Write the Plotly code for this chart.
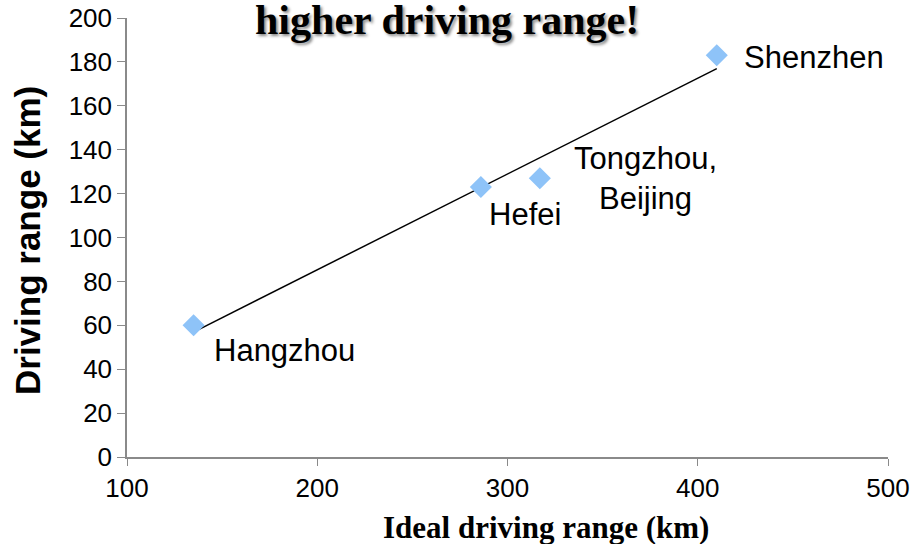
import numpy as np
import plotly.graph_objects as go

cities = ["Hangzhou", "Hefei", "Tongzhou,<br>Beijing", "Shenzhen"]
ideal_range = [135, 286, 317, 410]
driving_range = [60, 123, 127, 183]
x_ticks = [100, 200, 300, 400, 500]
y_ticks = [0, 20, 40, 60, 80, 100, 120, 140, 160, 180, 200]

# linear trendline from data
slope, intercept = np.polyfit(ideal_range, driving_range, 1)
tx = [min(ideal_range), max(ideal_range)]
ty = [slope * v + intercept for v in tx]

fig = go.Figure()
fig.add_trace(go.Scatter(x=tx, y=ty, mode="lines",
                         line=dict(color="black", width=1.5),
                         hoverinfo="skip", showlegend=False))
fig.add_trace(go.Scatter(x=ideal_range, y=driving_range, mode="markers",
                         marker=dict(symbol="diamond", size=17, color="#8EC3F8"),
                         showlegend=False))

label_cfg = [
    dict(xshift=18, yshift=-25, xanchor="left", yanchor="middle", align="left"),
    dict(xshift=6, yshift=-27, xanchor="left", yanchor="middle", align="left"),
    dict(xshift=106, yshift=0, xanchor="center", yanchor="middle", align="center"),
    dict(xshift=25, yshift=-2, xanchor="left", yanchor="middle", align="left"),
]
for c, x, y, cfg in zip(cities, ideal_range, driving_range, label_cfg):
    fig.add_annotation(x=x, y=y, text=c, showarrow=False,
                       font=dict(family="Arial, Liberation Sans", size=31, color="black"),
                       **cfg)

fig.add_annotation(text="<b>higher driving range!</b>", xref="paper", yref="paper",
                   x=0.42, y=1.0, yshift=-2, xanchor="center", yanchor="middle", showarrow=False,
                   font=dict(family="Liberation Serif, Times New Roman", size=42, color="black",
                             shadow="2px 2px 3px #888"))

fig.add_annotation(text="<b>Ideal driving range (km)</b>", xref="paper", yref="paper",
                   x=0.55, y=0, yshift=-70, xanchor="center", yanchor="middle", showarrow=False,
                   font=dict(family="Liberation Serif, Times New Roman", size=31, color="black"))
fig.add_annotation(text="<b>Driving range (km)</b>", xref="paper", yref="paper",
                   x=0, xshift=-100, y=0.492, xanchor="center", yanchor="middle", showarrow=False,
                   textangle=-90,
                   font=dict(family="Arial, Liberation Sans", size=35, color="black"))

fig.update_xaxes(range=[100, 500], tickvals=x_ticks, showgrid=False, zeroline=False,
                 showline=True, linecolor="#8a8a8a", linewidth=1.5, automargin=False,
                 ticks="outside", ticklen=7, tickcolor="#8a8a8a",
                 tickfont=dict(family="Arial, Liberation Sans", size=26, color="black"))
fig.update_yaxes(range=[0, 200], tickvals=y_ticks, showgrid=False, zeroline=False,
                 showline=True, linecolor="#8a8a8a", linewidth=1.5, automargin=False,
                 ticks="outside", ticklen=8, tickcolor="#8a8a8a",
                 tickfont=dict(family="Arial, Liberation Sans", size=26, color="black"))

fig.update_layout(width=912, height=544, margin=dict(l=127, r=24, t=18, b=87),
                  plot_bgcolor="white", paper_bgcolor="white")
fig.write_html("out.html", config={"displayModeBar": False},
               post_script="document.body.style.margin='0';document.body.style.overflow='hidden';")
